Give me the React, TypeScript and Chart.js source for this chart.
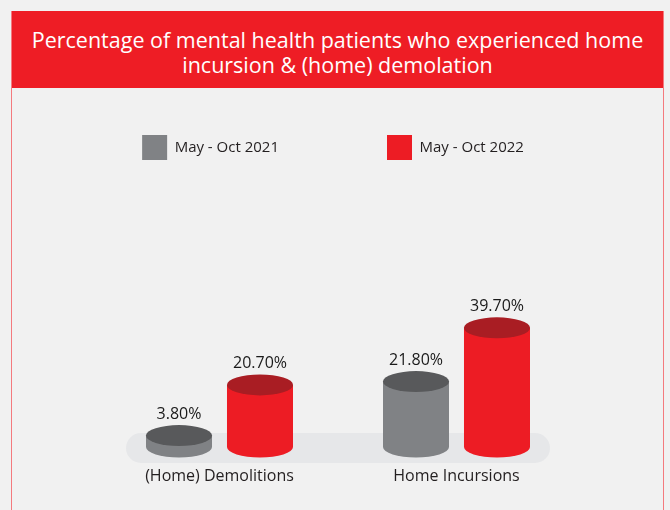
import React, { useEffect, useRef } from 'react';
import { Chart, registerables } from 'chart.js';

Chart.register(...registerables);

const titleLines = [
  'Percentage of mental health patients who experienced home',
  'incursion & (home) demolation',
];
const categories = ['(Home) Demolitions', 'Home Incursions'];
const seriesNames = ['May - Oct 2021', 'May - Oct 2022'];
const values2021 = [3.8, 21.8];
const values2022 = [20.7, 39.7];
const valueLabels2021 = ['3.80%', '21.80%'];
const valueLabels2022 = ['20.70%', '39.70%'];
const sideColors = ['#808285', '#ed1c24'];
const topColors = ['#58595b', '#a91d23'];

const valueLabels = [valueLabels2021, valueLabels2022];
const FONT = '"Open Sans", "Noto Sans", sans-serif';

const cylinderPlugin = {
  id: 'cylinders',
  beforeDatasetsDraw(chart: any) {
    const ctx = chart.ctx as CanvasRenderingContext2D;
    const xs = chart.scales.x;
    const ys = chart.scales.y;
    const baseY = ys.getPixelForValue(0);
    const x0 = xs.getPixelForValue(0);
    const x1 = xs.getPixelForValue(categories.length - 1);
    ctx.save();
    // floor band
    ctx.fillStyle = '#e6e7e9';
    const left = x0 - 93.5;
    const right = x1 + 93.5;
    ctx.beginPath();
    (ctx as any).roundRect(left, baseY - 14, right - left, 30, 15);
    ctx.fill();

    chart.data.datasets.forEach((ds: any, di: number) => {
      const meta = chart.getDatasetMeta(di);
      meta.data.forEach((bar: any, i: number) => {
        const { x, y, base, width } = bar.getProps(['x', 'y', 'base', 'width'], true);
        const rx = width / 2;
        const ry = 10.5;
        ctx.fillStyle = sideColors[di];
        ctx.beginPath();
        ctx.moveTo(x - rx, y);
        ctx.lineTo(x - rx, base);
        ctx.ellipse(x, base, rx, ry, 0, Math.PI, 0, true);
        ctx.lineTo(x + rx, y);
        ctx.closePath();
        ctx.fill();
        ctx.fillStyle = topColors[di];
        ctx.beginPath();
        ctx.ellipse(x, y, rx, ry, 0, 0, Math.PI * 2);
        ctx.fill();
        ctx.fillStyle = '#1a1a1a';
        ctx.font = '16px ' + FONT;
        ctx.textAlign = 'center';
        ctx.textBaseline = 'middle';
        ctx.fillText(valueLabels[di][i], x, y - ry - 11);
      });
    });
    ctx.restore();
    return false;
  },
};

export default function App() {
  const canvasRef = useRef<HTMLCanvasElement | null>(null);

  useEffect(() => {
    if (!canvasRef.current) return;
    const chart = new Chart(canvasRef.current, {
      type: 'bar',
      data: {
        labels: categories,
        datasets: [
          { label: seriesNames[0], data: values2021, backgroundColor: sideColors[0], borderWidth: 0 },
          { label: seriesNames[1], data: values2022, backgroundColor: sideColors[1], borderWidth: 0 },
        ],
      },
      options: {
        responsive: false,
        animation: false,
        layout: { padding: { top: 27, bottom: 23, left: 0, right: 4 } },
        datasets: {
          bar: { categoryPercentage: 0.6835, barPercentage: 0.815 },
        },
        plugins: {
          title: { display: false },
          tooltip: { enabled: false },
          legend: {
            display: true,
            position: 'top',
            labels: {
              boxWidth: 25,
              boxHeight: 25,
              padding: 108,
              color: '#231f20',
              font: { size: 15, family: FONT },
            },
          },
        },
        scales: {
          x: {
            offset: true,
            grid: { display: false, drawTicks: false },
            border: { display: false },
            ticks: { color: '#231f20', font: { size: 16, family: FONT }, padding: 20 },
            afterFit: (a: any) => { a.height = 40; },
          },
          y: {
            display: true,
            min: 0,
            max: 92.3,
            ticks: { display: false },
            grid: { display: false },
            border: { display: false },
            afterFit: (a: any) => { a.width = 101; },
          },
          yR: {
            display: true,
            position: 'right',
            ticks: { display: false },
            grid: { display: false },
            border: { display: false },
            afterFit: (a: any) => { a.width = 91; },
          },
        },
      } as any,
      plugins: [cylinderPlugin],
    });
    return () => chart.destroy();
  }, []);

  return (
    <div style={{ position: 'fixed', left: 0, top: 0, width: 670, height: 510, background: '#f1f1f1', overflow: 'hidden' }}>
      <div style={{ position: 'absolute', left: 11, top: 10.5, width: 651, height: 530, border: '1.5px solid #f47a7e' }} />
      <div
        style={{
          position: 'absolute', left: 12, top: 11, width: 651, height: 77, background: '#ee1d25',
          color: '#ffffff', fontFamily: FONT, fontSize: 21.5, lineHeight: '25px', textAlign: 'center',
          paddingTop: 16, boxSizing: 'border-box',
        }}
      >
        {titleLines.map((t, i) => (<div key={i}>{t}</div>))}
      </div>
      <canvas ref={canvasRef} width={670} height={510} style={{ position: 'absolute', left: 0, top: 0 }} />
    </div>
  );
}
